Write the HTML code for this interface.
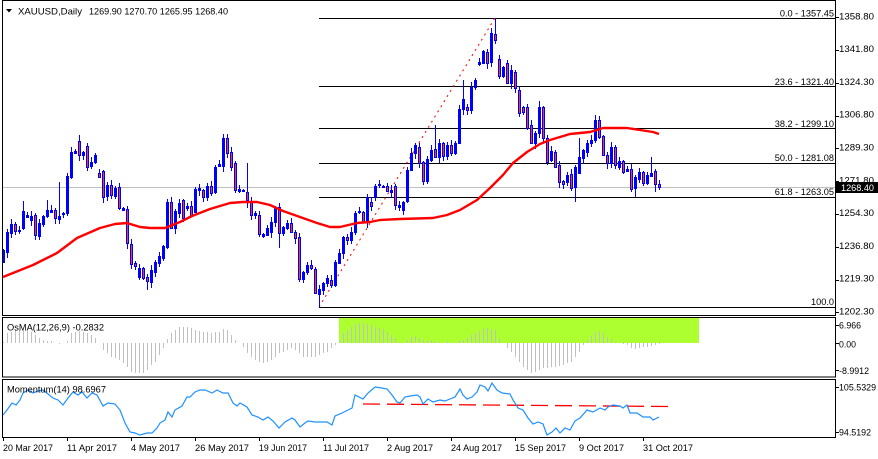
<!DOCTYPE html>
<html><head><meta charset="utf-8">
<style>
html,body{margin:0;padding:0;background:#fff;width:878px;height:459px;overflow:hidden}
svg{display:block;font-family:"Liberation Sans",sans-serif}
</style></head>
<body>
<svg id="s" width="878" height="459" viewBox="0 0 878 459" xmlns="http://www.w3.org/2000/svg" shape-rendering="crispEdges">
<rect width="878" height="459" fill="#fff"/>
<rect x="339" y="318" width="360" height="25" fill="#adff2f"/>
<rect x="3" y="187" width="832" height="1" fill="#c0c0c0"/>
<g fill="#000">
<rect x="319" y="18" width="516" height="1"/>
<rect x="319" y="86" width="516" height="1"/>
<rect x="319" y="128" width="516" height="1"/>
<rect x="319" y="163" width="516" height="1"/>
<rect x="319" y="197" width="516" height="1"/>
<rect x="319" y="307" width="516" height="1"/>
</g>
<line x1="319" y1="307" x2="495" y2="18" stroke="#f00" stroke-width="1" stroke-dasharray="2 4" shape-rendering="auto"/>
<g id="candles"></g>
<polyline id="ma" fill="none" stroke="#f00" stroke-width="2.4" stroke-linejoin="round" shape-rendering="auto" points=""/>
<g id="osma"></g>
<line x1="363" y1="404" x2="669" y2="406.5" stroke="#f00" stroke-width="1.3" stroke-dasharray="17 7" shape-rendering="auto"/>
<polyline id="mom" fill="none" stroke="#1e90ff" stroke-width="1.2" shape-rendering="auto" points=""/>

<g fill="none" stroke="#000" stroke-width="1">
<rect x="2.5" y="0.5" width="833" height="315"/>
<rect x="2.5" y="317.5" width="833" height="59.5"/>
<rect x="2.5" y="379.5" width="833" height="58"/>
</g>
<g fill="#000">
<rect x="835" y="17" width="4" height="1"/><rect x="835" y="50" width="4" height="1"/>
<rect x="835" y="83" width="4" height="1"/><rect x="835" y="116" width="4" height="1"/>
<rect x="835" y="148" width="4" height="1"/><rect x="835" y="181" width="4" height="1"/>
<rect x="835" y="214" width="4" height="1"/><rect x="835" y="247" width="4" height="1"/>
<rect x="835" y="280" width="4" height="1"/><rect x="835" y="312" width="4" height="1"/>
<rect x="835" y="325" width="4" height="1"/><rect x="835" y="343" width="4" height="1"/>
<rect x="835" y="370" width="4" height="1"/><rect x="835" y="387" width="4" height="1"/>
<rect x="835" y="432" width="4" height="1"/>
<rect x="3" y="437" width="1" height="4"/><rect x="67" y="437" width="1" height="4"/>
<rect x="131" y="437" width="1" height="4"/><rect x="195" y="437" width="1" height="4"/>
<rect x="259" y="437" width="1" height="4"/><rect x="323" y="437" width="1" height="4"/>
<rect x="387" y="437" width="1" height="4"/><rect x="451" y="437" width="1" height="4"/>
<rect x="515" y="437" width="1" height="4"/><rect x="579" y="437" width="1" height="4"/>
<rect x="643" y="437" width="1" height="4"/>
</g>

<g shape-rendering="auto" fill="#000">
<polygon points="6,9 12,9 9,12.5"/>
<text x="18" y="14.5" font-size="9.5" textLength="64" lengthAdjust="spacingAndGlyphs">XAUUSD,Daily</text>
<text x="89" y="14.5" font-size="9.5" textLength="139" lengthAdjust="spacingAndGlyphs">1269.90 1270.70 1265.95 1268.40</text>

<g font-size="9.2" text-anchor="end">
<text x="834" y="16.5">0.0 - 1357.45</text>
<text x="834" y="85">23.6 - 1321.40</text>
<text x="834" y="127">38.2 - 1299.10</text>
<text x="834" y="161">50.0 - 1281.08</text>
<text x="834" y="195">61.8 - 1263.05</text>
<text x="834" y="305">100.0</text>
</g>

<g font-size="9.6" lengthAdjust="spacingAndGlyphs">
<text x="839" y="19.3" textLength="35" lengthAdjust="spacingAndGlyphs">1358.80</text>
<text x="839" y="52.1" textLength="35" lengthAdjust="spacingAndGlyphs">1341.80</text>
<text x="839" y="84.9" textLength="35" lengthAdjust="spacingAndGlyphs">1324.30</text>
<text x="839" y="117.7" textLength="35" lengthAdjust="spacingAndGlyphs">1306.80</text>
<text x="839" y="150.5" textLength="35" lengthAdjust="spacingAndGlyphs">1289.30</text>
<text x="839" y="183.3" textLength="35" lengthAdjust="spacingAndGlyphs">1271.80</text>
<text x="839" y="216.1" textLength="35" lengthAdjust="spacingAndGlyphs">1254.30</text>
<text x="839" y="248.9" textLength="35" lengthAdjust="spacingAndGlyphs">1236.80</text>
<text x="839" y="281.7" textLength="35" lengthAdjust="spacingAndGlyphs">1219.30</text>
<text x="839" y="314.6" textLength="35" lengthAdjust="spacingAndGlyphs">1202.30</text>
<text x="839" y="328.6" textLength="22" lengthAdjust="spacingAndGlyphs">6.966</text>
<text x="839" y="347.6" textLength="17" lengthAdjust="spacingAndGlyphs">0.00</text>
<text x="839" y="373.9" textLength="30" lengthAdjust="spacingAndGlyphs">-8.9912</text>
<text x="839" y="390.6" textLength="37" lengthAdjust="spacingAndGlyphs">105.5329</text>
<text x="839" y="435.6" textLength="32" lengthAdjust="spacingAndGlyphs">94.5192</text>
</g>
<rect x="836" y="182" width="42" height="11" fill="#000"/>
<text x="841" y="191.2" font-size="9.6" fill="#fff" textLength="33" lengthAdjust="spacingAndGlyphs">1268.40</text>

<text x="7" y="330.5" font-size="9.5" textLength="97" lengthAdjust="spacingAndGlyphs">OsMA(12,26,9) -0.2832</text>
<text x="7" y="392.5" font-size="9.5" textLength="99" lengthAdjust="spacingAndGlyphs">Momentum(14) 98.6967</text>

<g font-size="9.2">
<text x="3" y="451" textLength="50" lengthAdjust="spacingAndGlyphs">20 Mar 2017</text>
<text x="67" y="451" textLength="50" lengthAdjust="spacingAndGlyphs">11 Apr 2017</text>
<text x="131" y="451" textLength="49" lengthAdjust="spacingAndGlyphs">4 May 2017</text>
<text x="195" y="451" textLength="54" lengthAdjust="spacingAndGlyphs">26 May 2017</text>
<text x="259" y="451" textLength="48" lengthAdjust="spacingAndGlyphs">19 Jun 2017</text>
<text x="323" y="451" textLength="46" lengthAdjust="spacingAndGlyphs">11 Jul 2017</text>
<text x="387" y="451" textLength="46" lengthAdjust="spacingAndGlyphs">2 Aug 2017</text>
<text x="451" y="451" textLength="51" lengthAdjust="spacingAndGlyphs">24 Aug 2017</text>
<text x="515" y="451" textLength="51" lengthAdjust="spacingAndGlyphs">15 Sep 2017</text>
<text x="579" y="451" textLength="45" lengthAdjust="spacingAndGlyphs">9 Oct 2017</text>
<text x="643" y="451" textLength="50" lengthAdjust="spacingAndGlyphs">31 Oct 2017</text>
</g>
</g>
</svg>
<script>
(function(){
var C=[[262,250],[252,232],[233,224],[224,231],[230,231],[228,211],[215,217],[220,216],[215,235],[236,223],
[224,216],[216,210],[212,210],[210,218],[219,216],[214,213],[213,176],[177,152],[153,151],[141,155],
[155,152],[146,167],[166,162],[162,155],[173,177],[171,197],[196,185],[185,195],[196,188],[187,208],
[208,210],[209,243],[244,264],[263,266],[277,268],[268,278],[277,281],[282,270],[272,262],[263,256],
[258,246],[247,202],[202,228],[228,211],[213,203],[200,218],[208,206],[206,215],[212,189],[190,188],
[190,197],[197,186],[186,193],[192,167],[166,164],[166,138],[138,153],[152,167],[163,190],[189,191],
[191,190],[192,200],[202,215],[213,215],[215,234],[234,236],[235,228],[232,222],[222,208],[207,233],
[233,227],[228,223],[223,232],[232,238],[237,279],[279,272],[272,265],[265,268],[269,293],[294,289],
[290,283],[283,278],[280,285],[285,262],[263,253],[253,237],[237,240],[240,232],[232,213],[212,211],
[212,222],[222,197],[202,206],[197,186],[185,184],[186,186],[186,191],[190,192],[186,205],[205,207],
[210,202],[201,170],[170,153],[153,145],[147,163],[162,181],[181,159],[160,150],[149,157],[157,143],
[143,156],[156,145],[145,153],[153,143],[143,109],[109,99],[107,110],[110,87],[87,80],[64,62],
[63,51],[52,63],[62,33],[34,40],[59,76],[76,67],[63,83],[83,70],[72,88],[90,113],
[107,112],[107,128],[125,143],[143,133],[133,107],[107,138],[138,162],[160,151],[152,167],[165,182],
[181,184],[182,175],[174,188],[187,167],[173,157],[158,150],[152,143],[143,140],[140,120],[120,137],
[136,155],[155,163],[163,147],[147,165],[167,161],[161,172],[169,171],[169,189],[188,177],[179,172],
[172,183],[183,175],[176,173],[171,184],[184,187]];
var OV={5:[201,null],11:[200,null],14:[182,null],19:[135,null],36:[null,290],55:[134,null],56:[134,null],
61:[163,208],69:[null,248],74:[null,282],79:[null,307],100:[null,215],108:[125,null],115:[80,null],
123:[18,null],134:[101,null],143:[null,202],144:[138,null],148:[115,null],157:[null,192],158:[null,197],
162:[157,null],163:[null,192],164:[null,190]};
var g='';
for(var i=0;i<C.length;i++){
 var x=3+4*i,o=C[i][0],c=C[i][1],top=Math.min(o,c),bot=Math.max(o,c);
 var hi=top-(1+(i*7)%5), lo=bot+(1+(i*5)%6);
 if(OV[i]){if(OV[i][0]!=null)hi=OV[i][0];if(OV[i][1]!=null)lo=OV[i][1];}
 g+='<rect x="'+x+'" y="'+hi+'" width="1" height="'+(lo-hi)+'" fill="#0000ff"/>';
 var h=bot-top;
 if(h<1){g+='<rect x="'+(x-1)+'" y="'+top+'" width="3" height="2" fill="#0000ff"/>';}
 else{
  g+='<rect x="'+(x-1)+'" y="'+top+'" width="3" height="'+(h+1)+'" fill="#0000ff"/>';
  if(c>o && h>2) g+='<rect x="'+x+'" y="'+(top+1)+'" width="1" height="'+(h-1)+'" fill="#f04020"/>';
 }
}
document.getElementById('candles').innerHTML=g;

var MA=[[3,277],[33,265],[57,253],[77,238],[100,228],[115,224],[127,223],[140,227],[150,228],[165,228],[180,222],[192,216],[210,209],[230,203],[243,202],[257,202],[270,205],[283,211],[300,217],[317,223],[330,227],[340,227],[357,223],[370,222],[380,220],[400,219],[433,218],[447,215],[460,210],[477,200],[490,188],[503,175],[513,163],[527,152],[540,144],[550,140],[570,134],[590,132],[603,128],[627,128],[640,130],[653,132],[659,134]];
document.getElementById('ma').setAttribute('points',MA.map(function(p){return p.join(',');}).join(' '));

var OS=[342,333,332,330,330,330,331,332,335,338,
340,341,341,343,344,343,341,333,332,331,
332,333,335,338,343,350,353,357,358,360,
363,367,372,373,373,373,370,365,362,355,
348,339,333,330,327,327,327,328,330,331,
332,332,333,332,332,329,330,335,340,343,
347,353,357,360,362,363,362,360,357,353,
352,350,348,350,353,357,357,357,357,355,
353,352,348,345,340,333,330,327,324,323,
323,324,325,327,328,329,332,335,338,342,
343,340,337,336,338,340,341,340,341,342,
343,341,
343,343,341,340,338,335,333,331,329,328,
329,330,338,343,348,352,357,362,367,370,
373,372,370,368,368,367,367,366,365,363,
362,357,352,345,340,336,332,331,333,337,
339,342,343,344,345,348,349,348,347,347,
346,345,344];
var z=343,og='';
for(var j=0;j<OS.length;j++){
 var xx=3+4*j,y=OS[j];
 if(y<z) og+='<rect x="'+xx+'" y="'+y+'" width="1" height="'+(z-y)+'" fill="#c0c0c0"/>';
 else if(y>z) og+='<rect x="'+xx+'" y="'+z+'" width="1" height="'+(y-z)+'" fill="#c0c0c0"/>';
}
document.getElementById('osma').innerHTML=og;

var M=[[3,415],[7,410],[12,403],[16,405],[20,400],[23,393],[28,390],[33,393],[38,391],[43,390],[48,394],[53,398],[58,400],[63,405],[68,398],[73,392],[78,395],[82,392],[87,398],[92,393],[97,395],[103,406],[108,403],[115,404],[120,410],[125,423],[130,432],[135,433],[140,435],[147,433],[152,433],[157,428],[160,423],[165,420],[168,412],[172,417],[175,410],[182,406],[187,397],[190,397],[195,392],[200,390],[205,390],[212,393],[217,390],[223,393],[228,393],[233,403],[237,406],[240,403],[247,407],[252,415],[258,417],[263,420],[268,417],[273,421],[279,428],[285,422],[292,418],[295,420],[300,427],[305,423],[308,421],[315,422],[322,422],[327,422],[332,425],[335,416],[342,413],[348,410],[352,408],[355,395],[363,399],[368,393],[375,387],[382,388],[387,389],[392,395],[397,402],[400,403],[405,397],[410,396],[417,395],[420,397],[423,404],[428,399],[433,402],[440,400],[445,401],[450,399],[455,397],[460,389],[463,395],[467,399],[472,397],[477,392],[480,385],[485,387],[488,391],[492,383],[497,390],[502,393],[510,394],[513,400],[518,408],[523,410],[528,418],[533,424],[538,422],[543,424],[547,435],[552,432],[556,428],[560,433],[565,428],[570,430],[575,421],[580,418],[587,410],[593,412],[600,408],[605,410],[608,407],[613,405],[620,406],[623,408],[627,405],[630,413],[637,413],[643,417],[650,417],[653,420],[659,417]];
document.getElementById('mom').setAttribute('points',M.map(function(p){return p.join(',');}).join(' '));
})();
</script>
</body></html>
